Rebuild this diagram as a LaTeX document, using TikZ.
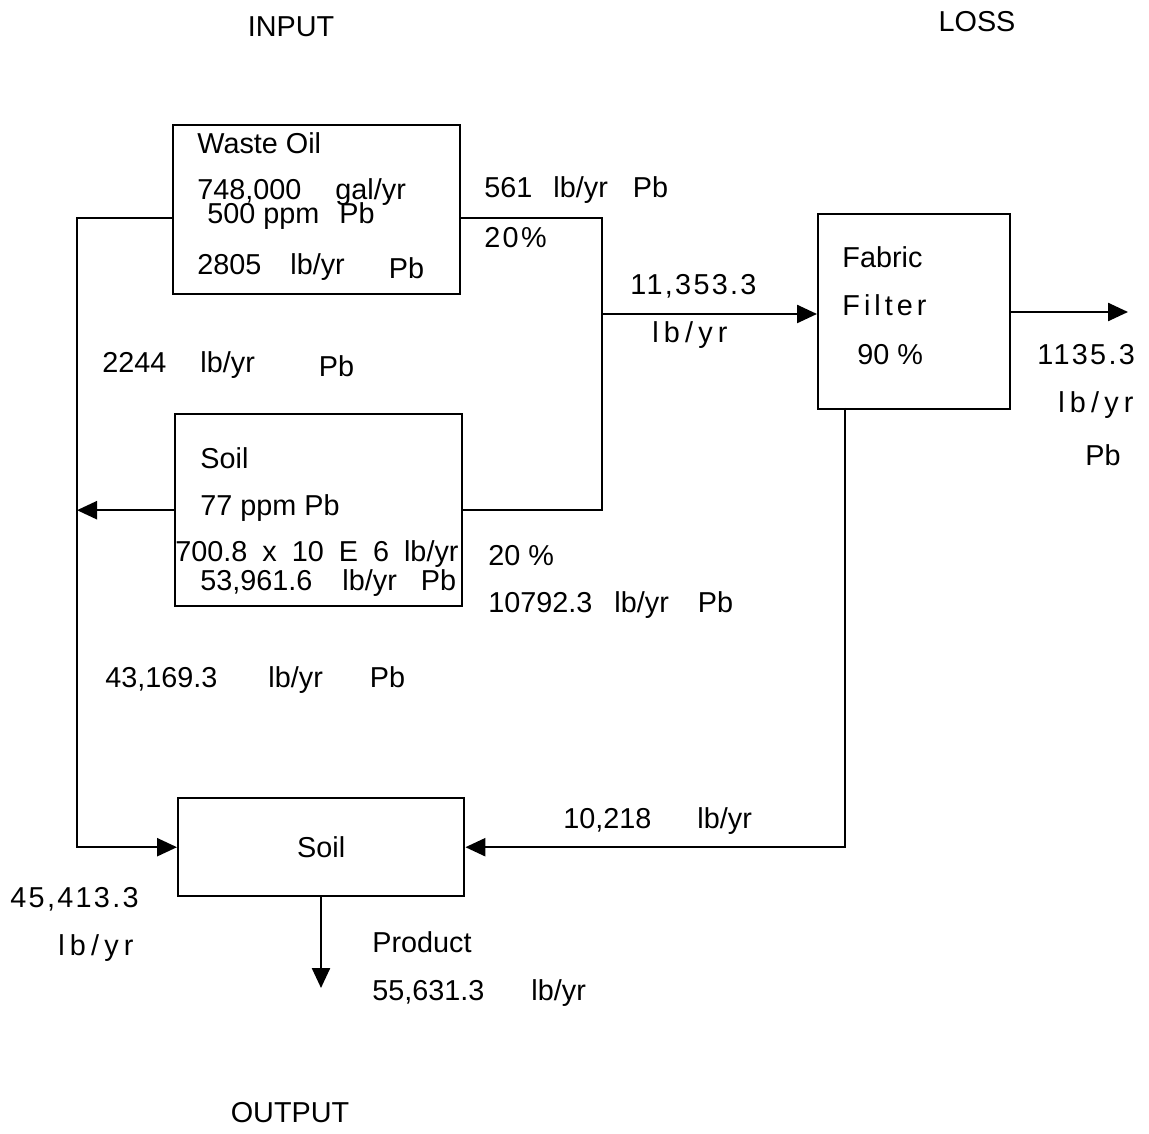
\documentclass[tikz,border=0pt]{standalone}
\usepackage{fontspec}
\setmainfont{Liberation Sans}
\newfontfamily\spacedfont[LetterSpace=8]{Liberation Sans}
\newfontfamily\midfont[LetterSpace=14]{Liberation Sans}
\newfontfamily\widefont[LetterSpace=18]{Liberation Sans}
\usetikzlibrary{positioning, calc, arrows.meta}
\newcommand{\gap}[1]{\hspace{#1pt}}

\begin{document}
\begin{tikzpicture}[x=0.5pt, y=-0.5pt,
    font=\fontsize{14.4}{16}\selectfont,
    procbox/.style={draw, line width=1.2pt, inner sep=0pt, anchor=north west},
    flow/.style={line width=1.2pt},
    flowtip/.style={flow, -{Triangle[length=10pt, width=9pt]}},
    lbl/.style={anchor=base west, inner sep=0pt},
    title/.style={anchor=base, inner sep=0pt}]
    \useasboundingbox (0,0) rectangle (1149,1133);

    % headings
    \node[title] (input) at (291,37) {INPUT};
    \node[title] (loss) at (977,32) {LOSS};
    \node[title] (output) at (290,1122) {OUTPUT};

    % process boxes
    \node[procbox, minimum width=143.5pt, minimum height=84.5pt] (oil) at (172,124) {};
    \node[procbox, minimum width=96pt, minimum height=97.5pt] (filter) at (817,213) {};
    \node[procbox, minimum width=143.5pt, minimum height=96pt] (soilin) at (174,413) {};
    \node[procbox, minimum width=143pt, minimum height=49pt] (soilout) at (177,797) {Soil};

    % helper points
    \coordinate (lefttop) at (77,218);
    \coordinate (junc) at (602,314);
    \coordinate (lossend) at (1128,312);
    \coordinate (filterdrop) at (845,408);
    \coordinate (prodend) at (321,988);

    % connectors
    \draw[flowtip] (oil.west |- lefttop) -- (lefttop) |- (soilout.west);
    \draw[flowtip] (soilin.west) -- (soilin.west -| lefttop);
    \draw[flow] (oil.east |- lefttop) -| (soilin.east -| junc) -- (soilin.east);
    \draw[flowtip] (junc) -- (filter.west |- junc);
    \draw[flowtip] (filter.east |- lossend) -- (lossend);
    \draw[flowtip] (filterdrop) |- (soilout.east);
    \draw[flowtip] (soilout.south -| prodend) -- (prodend);

    % waste oil box
    \node[lbl] (oilname) at (197,154) {Waste Oil};
    \node[lbl] (oilrate) at (197,200) {748,000\gap{17}gal/yr};
    \node[lbl] (oilppm) at (207,224) {500 ppm\gap{10}Pb};
    \node[lbl] (oilpb) at (197,275) {2805\gap{14.5}lb/yr\gap{22}\raisebox{-2pt}{Pb}};

    % stream to filter
    \node[lbl] (oilloss) at (484,198) {561\gap{10.5}lb/yr\gap{12.5}Pb};
    \node[lbl] (oilpct) at (484,248) {\spacedfont 20\%};
    \node[lbl] (feed) at (630,295) {\spacedfont 11,353.3};
    \node[lbl] (feedunit) at (652,343) {\widefont lb/yr};

    % fabric filter
    \node[lbl] (fname) at (842,268) {Fabric};
    \node[lbl] (fname2) at (842,316) {\midfont Filter};
    \node[lbl] (feff) at (857,365) {90 \%};
    \node[lbl] (emit) at (1037,365) {\spacedfont 1135.3};
    \node[lbl] (emitunit) at (1058,413) {\widefont lb/yr};
    \node[lbl] (emitpb) at (1085,465) {Pb};

    % recycle from oil
    \node[lbl] (oilret) at (102,372) {2244\gap{17}lb/yr\gap{32}\raisebox{-2pt}{Pb}};

    % soil box
    \node[lbl] (soilname) at (200,468) {Soil};
    \node[lbl] (soilppm) at (200,515) {77 ppm Pb};
    \node[lbl] (soilrate) at (175,561) {700.8\gap{7.5}x\gap{7.5}10\gap{7.5}E\gap{7.5}6\gap{7.5}lb/yr};
    \node[lbl] (soilpb) at (200,590) {53,961.6\gap{15}lb/yr\gap{12}Pb};
    \node[lbl] (soilpct) at (488,565) {20 \%};
    \node[lbl] (soilloss) at (488,612) {10792.3\gap{11}lb/yr\gap{14.5}Pb};
    \node[lbl] (soilret) at (105,687) {43,169.3\gap{25.5}lb/yr\gap{23.5}Pb};

    % return and product
    \node[lbl] (dust) at (563,828) {10,218\gap{23}lb/yr};
    \node[lbl] (toprod) at (10,907) {\spacedfont 45,413.3};
    \node[lbl] (toprodunit) at (58,955) {\widefont lb/yr};
    \node[lbl] (prod) at (372,952) {Product};
    \node[lbl] (prodamt) at (372,1000) {55,631.3\gap{23.5}lb/yr};
\end{tikzpicture}
\end{document}
